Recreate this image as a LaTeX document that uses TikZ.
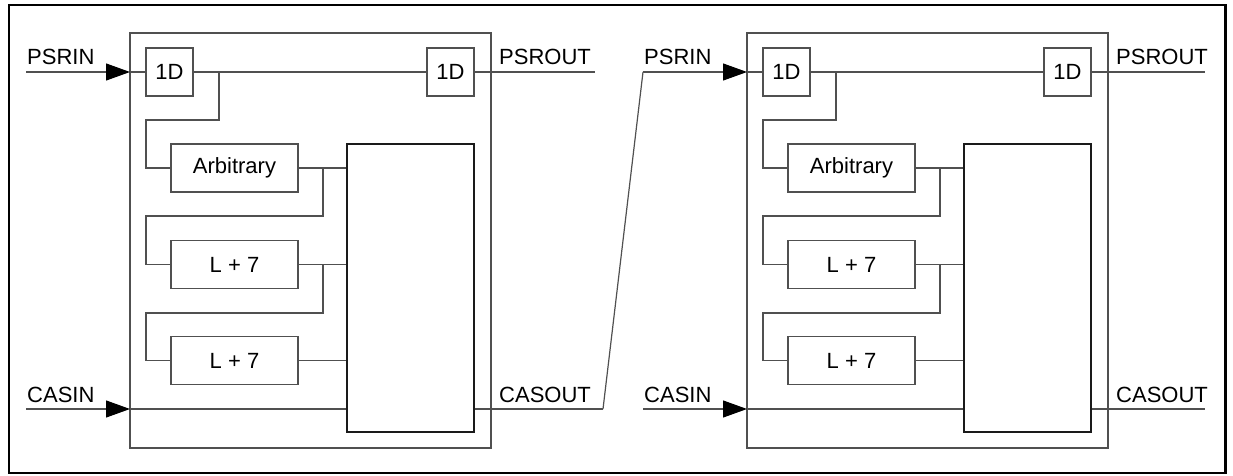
\documentclass[tikz,border=0pt]{standalone}
\usepackage{fontspec}
\setmainfont{Liberation Sans}
\usetikzlibrary{arrows.meta,calc}
\definecolor{ink}{HTML}{1A1A1A}
\definecolor{wire}{HTML}{505050}
\tikzset{
    wire/.style={draw=wire, line width=1.2pt},
    input wire/.style={wire, -{Triangle[length=24pt,width=17pt,color=black]}},
    module frame/.style={draw=wire, line width=1.2pt},
    outer frame/.style={draw=black, line width=2.2pt},
    delay box/.style={draw=wire, line width=1.2pt, inner sep=0pt,
                      minimum width=47pt, minimum height=48pt},
    logic box/.style={draw=wire, line width=1.2pt, inner sep=0pt,
                      minimum width=127pt, minimum height=48pt},
    mux box/.style={draw=ink, line width=1.2pt, inner sep=0pt,
                    minimum width=127pt, minimum height=288pt},
    port label/.style={anchor=base west, inner sep=0pt},
}

\begin{document}
\begin{tikzpicture}[x=1pt, y=-1pt, font=\fontsize{22pt}{26pt}\selectfont]

\useasboundingbox (0,0) rectangle (1233,476);
\draw[outer frame] (9,5) rectangle (1225.5,473);

% Two identical cascade stages; the second is shifted right.
\foreach \m/\dx/\pe/\ce in {L/0/595/603, R/617/588/588} {
\begin{scope}[xshift=\dx]
    \draw[module frame] (130,33) rectangle (491,448);

    % Blocks of one stage.
    \node[delay box] (\m-dA) at (169.5,72) {1D};
    \node[delay box] (\m-dB) at (450.5,72) {1D};
    \node[logic box] (\m-arb) at (234.5,168) {Arbitrary};
    \node[logic box] (\m-l1) at (234.5,264.5) {L + 7};
    \node[logic box] (\m-l2) at (234.5,360.5) {L + 7};
    \node[mux box] (\m-mux) at (410.5,288) {};

    % Ports and their labels.
    \coordinate (\m-pstart) at (26,72);
    \coordinate (\m-pin) at (130,72);
    \coordinate (\m-cstart) at (26,409);
    \coordinate (\m-cin) at (130,409);
    \coordinate (\m-pout) at (\pe,72);
    \coordinate (\m-cout) at (\ce,409);
    \node[port label] (\m-psrin) at (27,65) {PSRIN};
    \node[port label] (\m-psrout) at (499,65) {PSROUT};
    \node[port label] (\m-casin) at (27,402) {CASIN};
    \node[port label] (\m-casout) at (499,402) {CASOUT};

    \draw[input wire] (\m-pstart) -- (\m-pin);
    \draw[wire] (\m-pin) -- (\m-dA.west);
    \draw[wire] (\m-dA.east) -- (\m-dB.west);
    \draw[wire] (\m-dB.east) -- (\m-pout);
    \draw[input wire] (\m-cstart) -- (\m-cin);
    \draw[wire] (\m-cin) -- (\m-cin -| \m-mux.west);
    \draw[wire] (\m-cout -| \m-mux.east) -- (\m-cout);

    % Taps feeding each block from the one before.
    \coordinate (\m-t0) at (219,72);
    \coordinate (\m-t1) at (323,168);
    \coordinate (\m-t2) at (323,264.5);
    \draw[wire] (\m-t0) -- (219,120) -- (146,120) |- (\m-arb.west);
    \draw[wire] (\m-t1) -- (323,216) -- (146,216) |- (\m-l1.west);
    \draw[wire] (\m-t2) -- (323,313) -- (146,313) |- (\m-l2.west);
    \draw[wire] (\m-arb.east) -- (\m-arb.east -| \m-mux.west);
    \draw[wire] (\m-l1.east) -- (\m-l1.east -| \m-mux.west);
    \draw[wire] (\m-l2.east) -- (\m-l2.east -| \m-mux.west);
\end{scope}
}

% Cascade link from the first stage into the second.
\draw[wire] (L-cout) -- (R-pstart);

\end{tikzpicture}
\end{document}
